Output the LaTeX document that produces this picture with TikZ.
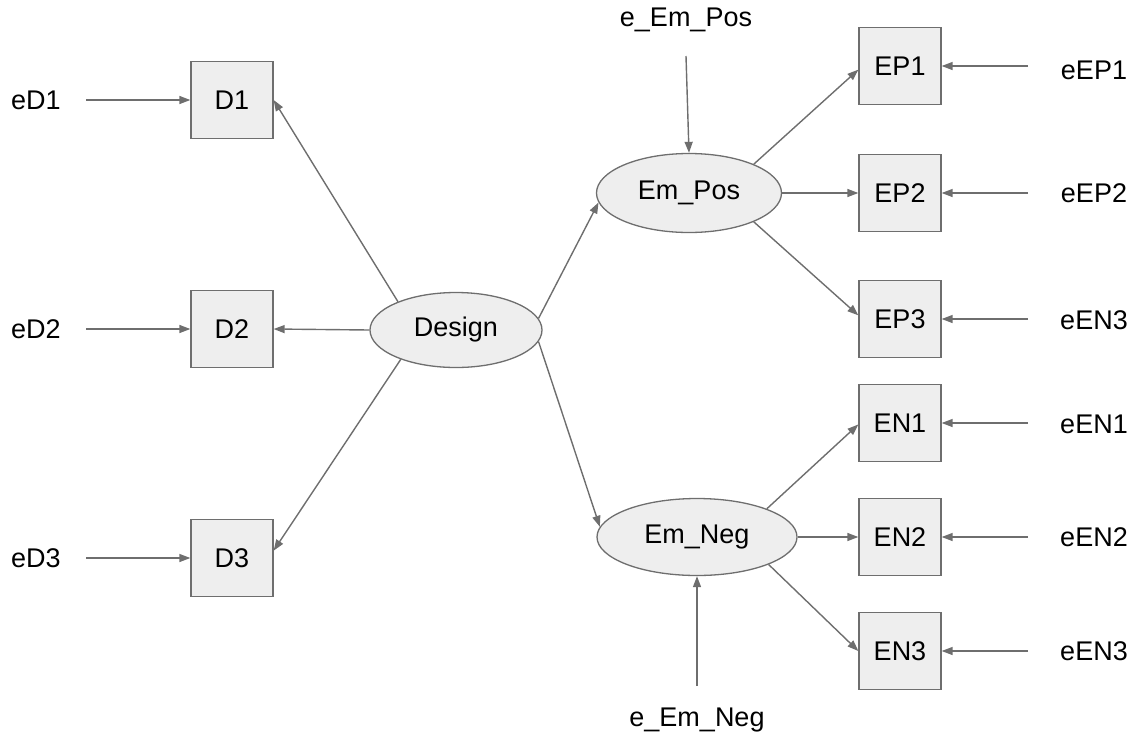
\documentclass[tikz,border=0pt]{standalone}
\usepackage{fontspec}
\setmainfont{Liberation Sans}
\usetikzlibrary{arrows.meta,shapes.geometric}
\definecolor{lncol}{HTML}{6E6E6E}
\definecolor{fillcol}{HTML}{EEEEEE}
\begin{document}
\begin{tikzpicture}[x=1pt,y=-1pt,
  every node/.style={font=\fontsize{27}{32}\selectfont, text=black},
  obsbox/.style={draw=lncol, fill=fillcol, line width=1.3pt, minimum width=82pt, minimum height=77pt, inner sep=0pt},
  latent/.style={ellipse, draw=lncol, fill=fillcol, line width=1.3pt, inner sep=0pt},
  errlabel/.style={inner sep=1pt},
  conn/.style={draw=lncol, line width=1.4pt, -{Triangle[length=11pt,width=8pt]}}
]
\useasboundingbox (0,0) rectangle (1128,740);
% observed boxes
\node[obsbox] (D1) at (232,100) {D1};
\node[obsbox] (D2) at (232,329) {D2};
\node[obsbox] (D3) at (232,558) {D3};
\node[obsbox] (EP1) at (900,66) {EP1};
\node[obsbox] (EP2) at (900,193) {EP2};
\node[obsbox] (EP3) at (900,319) {EP3};
\node[obsbox] (EN1) at (900,423) {EN1};
\node[obsbox] (EN2) at (900,537) {EN2};
\node[obsbox] (EN3) at (900,651) {EN3};
% latent ellipses
\node[latent, minimum width=172pt, minimum height=75pt] (Design) at (456,330) {Design};
\node[latent, minimum width=185pt, minimum height=79pt] (EmPos) at (689,193) {Em\_Pos};
\node[latent, minimum width=200pt, minimum height=77pt] (EmNeg) at (697,537) {Em\_Neg};
% error labels
\node[errlabel] (eD1) at (36,100) {eD1};
\node[errlabel] (eD2) at (36,329) {eD2};
\node[errlabel] (eD3) at (36,558) {eD3};
\node[errlabel] (eEP1) at (1094,70) {eEP1};
\node[errlabel] (eEP2) at (1094,193) {eEP2};
\node[errlabel] (eEP3) at (1094,320) {eEN3};
\node[errlabel] (eEN1) at (1094,424) {eEN1};
\node[errlabel] (eEN2) at (1094,537) {eEN2};
\node[errlabel] (eEN3) at (1094,651) {eEN3};
\node[errlabel] (ePos) at (686,20) {e\_Em\_Pos};
\node[errlabel] (eNeg) at (697,720) {e\_Em\_Neg};
% start points of error arrows
\coordinate (sD1) at (86,100);
\coordinate (sD2) at (86,329);
\coordinate (sD3) at (86,558);
\coordinate (sEP1) at (1028,66);
\coordinate (sEP2) at (1028,193);
\coordinate (sEP3) at (1028,319);
\coordinate (sEN1) at (1028,423);
\coordinate (sEN2) at (1028,537);
\coordinate (sEN3) at (1028,651);
\coordinate (sPos) at (686,56);
\coordinate (sNeg) at (697,686);
% error arrows
\draw[conn] (sD1) -- (D1.west);
\draw[conn] (sD2) -- (D2.west);
\draw[conn] (sD3) -- (D3.west);
\draw[conn] (sEP1) -- (EP1.east);
\draw[conn] (sEP2) -- (EP2.east);
\draw[conn] (sEP3) -- (EP3.east);
\draw[conn] (sEN1) -- (EN1.east);
\draw[conn] (sEN2) -- (EN2.east);
\draw[conn] (sEN3) -- (EN3.east);
\draw[conn] (sPos) -- (EmPos.north);
\draw[conn] (sNeg) -- (EmNeg.south);
% structural arrows
\draw[conn] (Design.154) -- (D1.east);
\draw[conn] (Design.west) -- (D2.east);
\draw[conn] (Design.208) -- (D3.10);
\draw[conn] (Design.8) -- (EmPos.186);
\draw[conn] (Design.-8) -- (EmNeg.174);
\draw[conn] (EmPos.24) -- (EP1.185);
\draw[conn] (EmPos.east) -- (EP2.west);
\draw[conn] (EmPos.-24) -- (EP3.175);
\draw[conn] (EmNeg.22) -- (EN1.182);
\draw[conn] (EmNeg.east) -- (EN2.west);
\draw[conn] (EmNeg.-21) -- (EN3.west);
\end{tikzpicture}
\end{document}
